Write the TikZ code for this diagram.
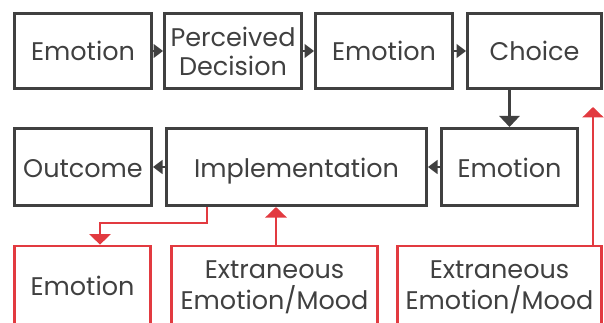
\documentclass[tikz,border=0pt]{standalone}
\usepackage{fontspec}
\setmainfont{Poppins}
\usetikzlibrary{arrows.meta}
\definecolor{dk}{HTML}{404040}
\definecolor{rd}{HTML}{E23A40}
\begin{document}
\begin{tikzpicture}[x=1pt,y=-1pt,
  box/.style={draw=dk, line width=3pt, minimum height=75pt, inner sep=0pt, text=dk, align=center,
    font=\fontsize{25.5}{29}\selectfont},
  one/.style={text height=20pt, text depth=0pt},
  rbox/.style={draw=rd, line width=2.7pt, inner sep=0pt},
  rtext/.style={text=dk, align=center, font=\fontsize{25.5}{31}\selectfont},
  sidetip/.style={-{Triangle[length=9.5pt,width=14pt]}, dk, line width=1.5pt},
  downtip/.style={-{Triangle[length=11pt,width=20pt]}, dk, line width=2.5pt},
  redtip/.style={-{Triangle[length=10.5pt,width=21pt]}, rd, line width=2.7pt},
]
\useasboundingbox (0,0) rectangle (604,323);
\clip (0,0) rectangle (604,323);
% top row
\node[box, one, minimum width=137pt] (e1) at (83,51) {Emotion};
\node[box, minimum width=137pt] (pd) at (233,51) {Perceived\\Decision};
\node[box, one, minimum width=137pt] (e2) at (384,51) {Emotion};
\node[box, one, minimum width=134pt] (ch) at (534.5,51) {Choice};
% middle row
\node[box, one, minimum width=137pt, minimum height=77pt] (oc) at (83,167) {Outcome};
\node[box, one, minimum width=260pt, minimum height=77pt] (im) at (296.5,167) {Implementation};
\node[box, one, minimum width=136pt, minimum height=77pt] (e3) at (509.5,167) {Emotion};
% bottom row boxes
\node[rbox, minimum width=136pt, minimum height=100pt] (r1) at (82.5,296) {};
\node[rbox, minimum width=206pt, minimum height=100pt] (r2) at (274.5,296) {};
\node[rbox, minimum width=204pt, minimum height=100pt] (r3) at (499.5,296) {};
\node[rtext, text height=20pt, text depth=0pt] (t1) at (82.5,285) {Emotion};
\node[rtext] (t2) at (274.5,287) {Extraneous\\Emotion/Mood};
\node[rtext] (t3) at (499.5,287) {Extraneous\\Emotion/Mood};
% black connectors
\draw[sidetip] (e1.east) -- (pd.west);
\draw[sidetip] (pd.east) -- (e2.west);
\draw[sidetip] (e2.east) -- (ch.west);
\draw[downtip] (e3.north |- ch.south) -- (e3.north);
\draw[sidetip] (e3.west) -- (im.east);
\draw[sidetip] (im.west) -- (oc.east);
% red connectors
\coordinate (s1) at (207,0);
\coordinate (d1) at (100,0);
\draw[redtip] (s1 |- im.south) -- (s1 |- 0,223) -| (d1 |- r1.north);
\coordinate (s2) at (276,0);
\draw[redtip] (s2 |- r2.north) -- (s2 |- im.south);
\coordinate (s3) at (593,0);
\coordinate (e3t) at (593,107);
\draw[redtip] (s3 |- r3.north) -- (e3t);
\end{tikzpicture}
\end{document}
